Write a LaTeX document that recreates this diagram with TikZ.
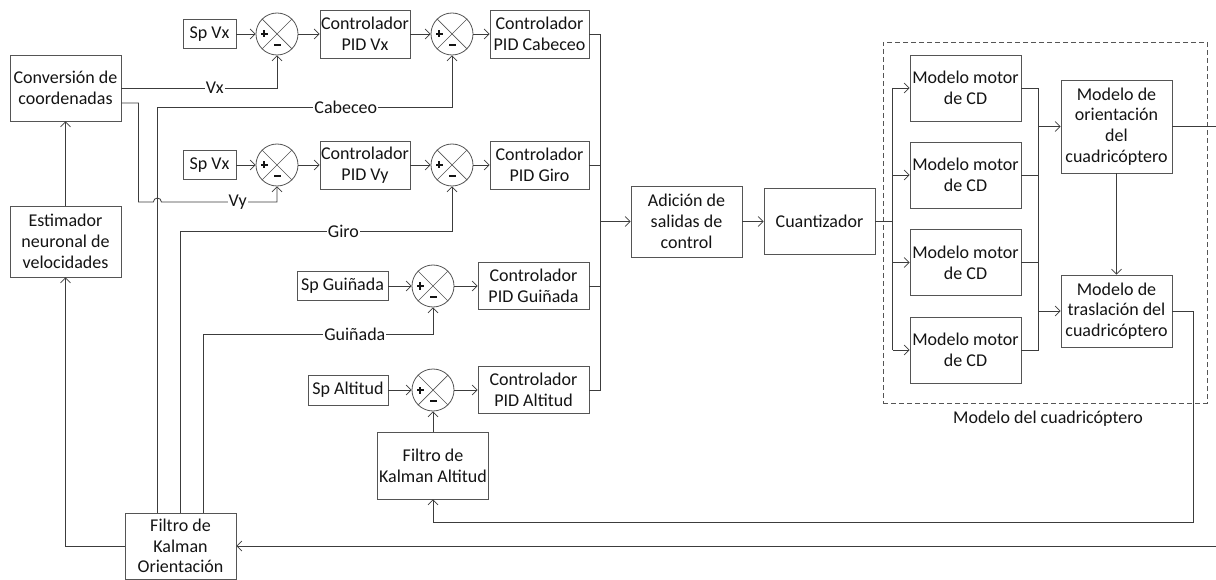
\documentclass[tikz,border=0pt]{standalone}
\usepackage{fontspec}
\setmainfont{Carlito}
\usetikzlibrary{arrows.meta}
\definecolor{boxc}{HTML}{555555}
\definecolor{linec}{HTML}{3C3C3C}
\definecolor{txtc}{HTML}{141414}
\begin{document}
\begin{tikzpicture}[x=1pt,y=-1pt,
  font=\fontsize{18}{20.7}\selectfont,
  box/.style={draw=boxc, line width=0.8pt, align=center, inner sep=1pt, text=txtc},
  sumc/.style={draw=boxc, circle, line width=0.8pt, minimum size=42pt, inner sep=0pt},
  wire/.style={draw=linec, line width=0.8pt},
  arr/.style={wire, -{Straight Barb[length=5pt,width=10pt,line width=0.7pt]}},
  lab/.style={fill=white, inner sep=1pt, text=txtc},
]
\fill[white] (0,0) rectangle (1216,580);
\useasboundingbox (0,0) rectangle (1216,580);

% left column
\node[box, minimum width=111pt, minimum height=66pt] (conv) at (65.5,88) {Conversión de\\coordenadas};
\node[box, minimum width=111pt, minimum height=71pt] (est) at (65.5,241.5) {Estimador\\neuronal de\\velocidades};
\node[box, minimum width=111pt, minimum height=66pt] (kori) at (180.5,546) {Filtro de\\Kalman\\Orientación};

% set points
\node[box, minimum width=53pt, minimum height=29pt] (spvx1) at (209.5,34) {Sp Vx};
\node[box, minimum width=53pt, minimum height=29pt] (spvx2) at (209.5,165) {Sp Vx};
\node[box, minimum width=91pt, minimum height=29pt] (spgui) at (342.5,286) {Sp Guiñada};
\node[box, minimum width=80pt, minimum height=30pt] (spalt) at (348,390) {Sp Altitud};

% summing junctions
\node[sumc] (s1) at (277,34) {};
\node[sumc] (s2) at (277,165) {};
\node[sumc] (s3) at (452,34) {};
\node[sumc] (s4) at (452,165) {};
\node[sumc] (s5) at (433,286) {};
\node[sumc] (s6) at (433,390) {};
\foreach \s in {s1,s2,s3,s4,s5,s6}{
  \draw[draw=boxc, line width=0.7pt] (\s.north west) -- (\s.south east) (\s.north east) -- (\s.south west);
  \fill[txtc] ([xshift=-16.5pt,yshift=-1.1pt]\s.center) rectangle ([xshift=-9.5pt,yshift=1.1pt]\s.center);
  \fill[txtc] ([xshift=-14.1pt,yshift=-3.5pt]\s.center) rectangle ([xshift=-11.9pt,yshift=3.5pt]\s.center);
  \fill[txtc] ([xshift=-3.5pt,yshift=-10pt]\s.center) rectangle ([xshift=3.5pt,yshift=-12.2pt]\s.center);
}

% controllers
\node[box, minimum width=90pt, minimum height=48pt] (pidvx) at (365,34) {Controlador\\PID Vx};
\node[box, minimum width=90pt, minimum height=48pt] (pidvy) at (365,165) {Controlador\\PID Vy};
\node[box, minimum width=99pt, minimum height=48pt] (pidcab) at (539.5,34) {Controlador\\PID Cabeceo};
\node[box, minimum width=99pt, minimum height=48pt] (pidgiro) at (539.5,165) {Controlador\\PID Giro};
\node[box, minimum width=111pt, minimum height=47pt] (pidgui) at (533.5,286) {Controlador\\PID Guiñada};
\node[box, minimum width=111pt, minimum height=47pt] (pidalt) at (533.5,390) {Controlador\\PID Altitud};
\node[box, minimum width=111pt, minimum height=67pt] (kalt) at (433,465.5) {Filtro de\\Kalman Altitud};

% middle
\node[box, minimum width=111pt, minimum height=71pt] (adic) at (686.5,221.5) {Adición de\\salidas de\\control};
\node[box, minimum width=111pt, minimum height=66pt] (cuant) at (819.5,221.5) {Cuantizador};

% quadcopter model
\node[draw=boxc, line width=0.8pt, dash pattern=on 5pt off 3pt, minimum width=324pt, minimum height=361pt] (dash) at (1045,222.5) {};
\node[text=txtc, inner sep=0pt] (dlab) at (1048,419) {Modelo del cuadricóptero};
\node[box, minimum width=111pt, minimum height=66pt] (m1) at (965.5,88) {Modelo motor\\de CD};
\node[box, minimum width=111pt, minimum height=66pt] (m2) at (965.5,175) {Modelo motor\\de CD};
\node[box, minimum width=111pt, minimum height=66pt] (m3) at (965.5,262.5) {Modelo motor\\de CD};
\node[box, minimum width=111pt, minimum height=66pt] (m4) at (965.5,350) {Modelo motor\\de CD};
\node[box, minimum width=111pt, minimum height=93pt] (ori) at (1116.5,126.5) {Modelo de\\orientación\\del\\cuadricóptero};
\node[box, minimum width=111pt, minimum height=72pt] (tras) at (1116.5,311) {Modelo de\\traslación del\\cuadricóptero};
\coordinate (outR) at (1216,126.5);
\coordinate (inR) at (1216,546);

% set point paths
\draw[arr] (spvx1.east) -- (s1.west);
\draw[arr] (s1.east) -- (pidvx.west);
\draw[arr] (pidvx.east) -- (s3.west);
\draw[arr] (s3.east) -- (pidcab.west);
\draw[arr] (spvx2.east) -- (s2.west);
\draw[arr] (s2.east) -- (pidvy.west);
\draw[arr] (pidvy.east) -- (s4.west);
\draw[arr] (s4.east) -- (pidgiro.west);
\draw[arr] (spgui.east) -- (s5.west);
\draw[arr] (s5.east) -- (pidgui.west);
\draw[arr] (spalt.east) -- (s6.west);
\draw[arr] (s6.east) -- (pidalt.west);

% feedback from conversion
\draw[arr] (conv.east) -| node[lab, pos=0.3] {Vx} (s1.south);
\draw[arr] ([yshift=-15pt]conv.east) -- ++(17,0) -- ++(0,99) -- ++(15,0)
   arc[start angle=180, end angle=0, radius=4pt] -| node[lab, pos=0.33] {Vy} (s2.south);

% feedback from Kalman orientation
\draw[arr] ([xshift=-23.5pt]kori.north) -- ++(0,-405) -| node[lab, pos=0.32] {Cabeceo} (s3.south);
\draw[arr] (kori.north) -- ++(0,-281) -| node[lab, pos=0.3] {Giro} (s4.south);
\draw[arr] ([xshift=22.5pt]kori.north) -- ++(0,-178) -| node[lab, pos=0.33] {Guiñada} (s5.south);
\draw[arr] (kalt.north) -- (s6.south);

% controller outputs bus
\draw[wire] (pidcab.east) -- ++(11,0) |- (pidalt.east);
\draw[wire] (pidgiro.east) -- ++(11,0);
\draw[wire] (pidgui.east) -- ++(11,0);
\draw[arr] ([xshift=11pt]pidcab.east |- adic.west) -- (adic.west);
\draw[arr] (adic.east) -- (cuant.west);

% motors
\draw[wire] (cuant.east) -- ([xshift=-17pt]m1.west |- cuant.east);
\draw[wire] ([xshift=-17pt]m1.west) -- ([xshift=-17pt]m4.west);
\draw[arr] ([xshift=-17pt]m1.west) -- (m1.west);
\draw[arr] ([xshift=-17pt]m2.west) -- (m2.west);
\draw[arr] ([xshift=-17pt]m3.west) -- (m3.west);
\draw[arr] ([xshift=-17pt]m4.west) -- (m4.west);
\draw[wire] (m1.east) -- ++(17,0) |- (m4.east);
\draw[wire] (m2.east) -- ++(17,0);
\draw[wire] (m3.east) -- ++(17,0);
\draw[arr] ([xshift=17pt]m1.east |- ori.west) -- (ori.west);
\draw[arr] ([xshift=17pt]m1.east |- tras.west) -- (tras.west);
\draw[arr] (ori.south) -- (tras.north);
\draw[wire] (ori.east) -- (outR);

% return paths
\draw[arr] (tras.east) -- ++(21,0) -- ++(0,211) -| (kalt.south);
\draw[arr] (inR) -- (kori.east);
\draw[arr] (kori.west) -| (est.south);
\draw[arr] (est.north) -- (conv.south);
\end{tikzpicture}
\end{document}
